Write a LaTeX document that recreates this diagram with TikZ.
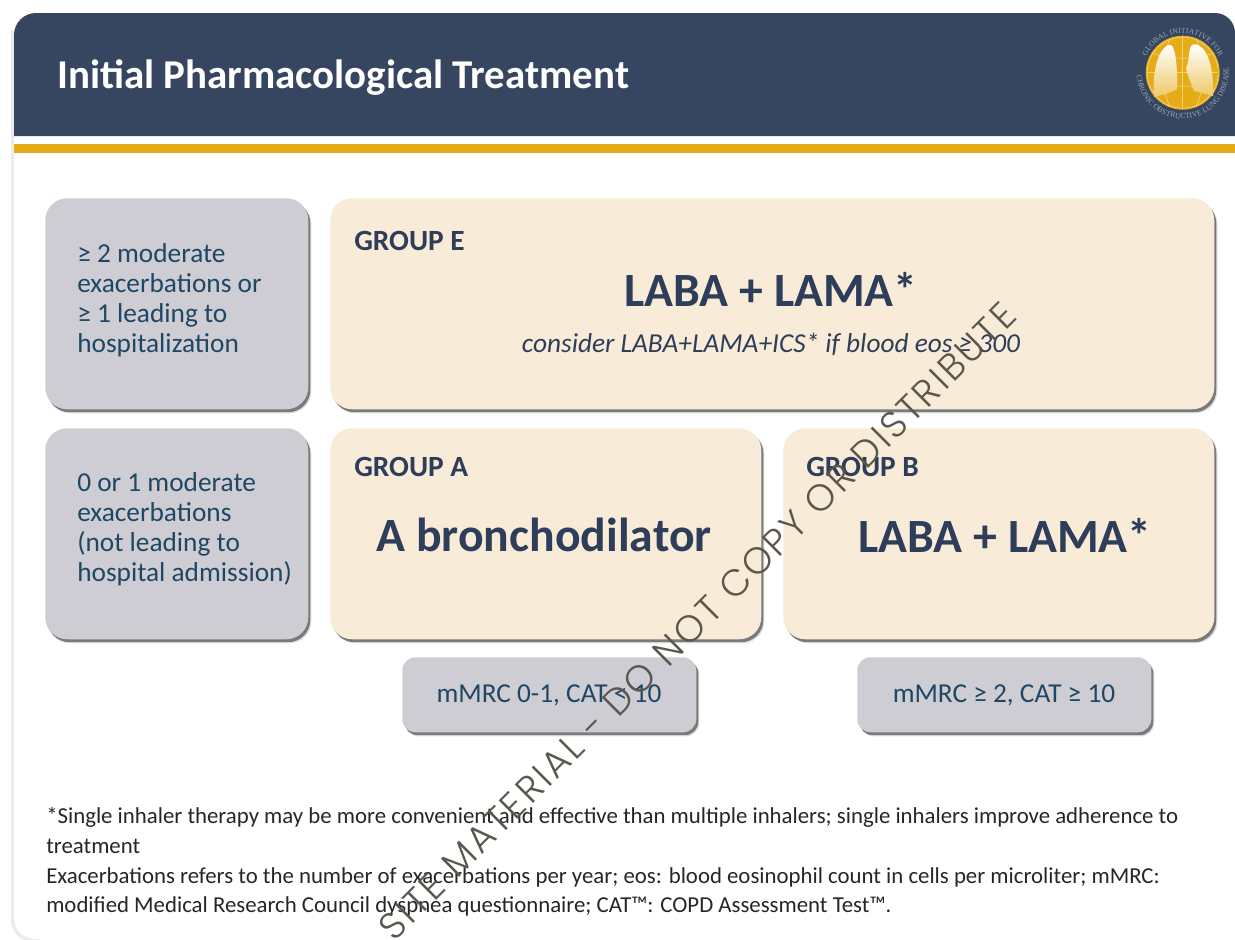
\documentclass[tikz,border=0pt]{standalone}
\usepackage{fontspec}
\setmainfont{Carlito}
\newfontfamily\logofont{Liberation Serif}
\newfontfamily\stampfont[LetterSpace=7]{Poppins Light}
\usetikzlibrary{shadows,decorations.text}

\definecolor{headerblue}{HTML}{374660}
\definecolor{goldband}{HTML}{E5AC18}
\definecolor{boxgray}{HTML}{CFCDD4}
\definecolor{boxcream}{HTML}{F8ECD8}
\definecolor{textblue}{HTML}{2E3D59}
\definecolor{labelblue}{HTML}{1F4763}
\definecolor{ringgray}{HTML}{9AA5B5}
\definecolor{gridgold}{HTML}{F3D27A}
\definecolor{stampgray}{HTML}{5C574C}

\tikzset{
  panelbox/.style={rectangle,rounded corners=16.5pt,anchor=north west,inner sep=0pt,
    drop shadow={shadow xshift=2.4pt,shadow yshift=-3pt,fill=black,opacity=0.12},
    drop shadow={shadow xshift=1.5pt,shadow yshift=-2.2pt,fill=black,opacity=0.45}},
  graybox/.style={panelbox,fill=boxgray},
  creambox/.style={panelbox,fill=boxcream},
  sidetext/.style={anchor=north west,align=left,text=labelblue,inner sep=0pt,
    font=\fontsize{20.5}{22.5}\selectfont},
  grouptext/.style={anchor=west,inner sep=0pt,text=textblue,font=\fontsize{22}{26}\selectfont\bfseries},
  bigtext/.style={inner sep=0pt,text=textblue,font=\fontsize{35.8}{40}\selectfont\bfseries},
  axistext/.style={inner sep=0pt,text=labelblue,font=\fontsize{20.5}{24}\selectfont},
  notetext/.style={anchor=west,inner sep=0pt,text=black!85,font=\fontsize{17.1}{20}\selectfont},
}

\begin{document}
\begin{tikzpicture}[x=0.75pt,y=0.75pt]
      \useasboundingbox (0,0) rectangle (1235,-939);
      \fill[white] (0,0) rectangle (1235,-939);

      %% page and header
      \fill[black!8] (11,-30) -- (11,-920) arc[start angle=180,end angle=270,radius=22] -- (40,-942) -- (40,-30) -- cycle;
      \fill[white] (14,-20) -- (14,-918) arc[start angle=180,end angle=270,radius=21] -- (1235,-939) -- (1235,-20) -- cycle;
      \fill[headerblue] (14,-136) -- (14,-35) arc[start angle=180,end angle=90,radius=22] -- (1215,-13) arc[start angle=90,end angle=0,radius=20] -- (1235,-136) -- cycle;
      \fill[goldband] (14,-144) rectangle (1235,-153);
      \node[anchor=west,inner sep=0pt,text=white,font=\fontsize{30.7}{36}\selectfont\bfseries] (title) at (57,-78) {Initial Pharmacological Treatment};

      %% logo
      \fill[goldband] (1182.7,-72.7) circle (37);
      \draw[gridgold,line width=0.5pt] (1182.7,-72.7) circle (35.5);
      \draw[gridgold,line width=0.5pt] (1148,-72.7) -- (1217,-72.7);
      \draw[gridgold,line width=0.5pt] (1182.7,-36) -- (1182.7,-109);
      \draw[gridgold,line width=0.5pt] (1152,-92) .. controls (1170,-84) and (1196,-84) .. (1214,-92);
      \draw[gridgold,line width=0.5pt] (1152,-53) .. controls (1170,-60) and (1196,-60) .. (1214,-53);
      \draw[gridgold,line width=0.5pt] (1170,-39) .. controls (1160,-60) and (1160,-85) .. (1170,-107);
      \draw[gridgold,line width=0.5pt] (1196,-39) .. controls (1206,-60) and (1206,-85) .. (1196,-107);
      \shade[top color=white,bottom color=goldband!65!white] (1168,-45) .. controls (1158,-50) and (1152,-72) .. (1154,-97) .. controls (1164,-95) and (1172,-92) .. (1177,-89) .. controls (1178,-75) and (1176,-55) .. (1174,-50) .. controls (1173,-46) and (1171,-44) .. (1168,-45) -- cycle;
      \shade[top color=white,bottom color=goldband!65!white] (1192,-45) .. controls (1188,-48) and (1190,-60) .. (1186,-68) .. controls (1188,-78) and (1192,-85) .. (1194,-91) .. controls (1200,-92) and (1208,-95) .. (1213,-96) .. controls (1214,-75) and (1210,-50) .. (1198,-45) .. controls (1196,-44) and (1194,-44) .. (1192,-45) -- cycle;
      \path[decorate,decoration={text along path,text align=center,text color=ringgray,
        text={|\fontsize{5.8}{7}\logofont|GLOBAL INITIATIVE FOR}}]
        (1182.7,-72.7) ++(160:39.5) arc[start angle=160,end angle=20,radius=39.5];
      \path[decorate,decoration={text along path,text align=center,text color=ringgray,
        text={|\fontsize{5.8}{7}\logofont|CHRONIC OBSTRUCTIVE LUNG DISEASE}}]
        (1182.7,-72.7) ++(178:46) arc[start angle=178,end angle=372,radius=46];

      %% boxes
      \node[graybox,minimum width=263*0.75pt,minimum height=211*0.75pt] (exacHigh) at (45,-198) {};
      \node[graybox,minimum width=263*0.75pt,minimum height=211*0.75pt] (exacLow) at (45,-428) {};
      \node[creambox,minimum width=884*0.75pt,minimum height=211*0.75pt] (groupE) at (330,-198) {};
      \node[creambox,minimum width=431*0.75pt,minimum height=211*0.75pt] (groupA) at (330,-428) {};
      \node[creambox,minimum width=431*0.75pt,minimum height=211*0.75pt] (groupB) at (783,-428) {};
      \node[graybox,rounded corners=10pt,minimum width=294*0.75pt,minimum height=75*0.75pt] (axisA) at (402,-657) {};
      \node[graybox,rounded corners=10pt,minimum width=294*0.75pt,minimum height=75*0.75pt] (axisB) at (857,-657) {};

      %% left labels
      \node[sidetext] (exacHighText) at (77,-243) {≥ 2 moderate\\exacerbations or\\≥ 1 leading to\\hospitalization};
      \node[sidetext] (exacLowText) at (77,-472) {0 or 1 moderate\\exacerbations\\(not leading to\\hospital admission)};

      %% group labels
      \node[grouptext] (groupEName) at (354,-241) {GROUP E};
      \node[grouptext] (groupAName) at (354,-467) {GROUP A};
      \node[grouptext] (groupBName) at (806,-467) {GROUP B};
      \node[bigtext] (groupEDrug) at (771,-289) {LABA + LAMA*};
      \node[bigtext] (groupADrug) at (544,-535) {A bronchodilator};
      \node[bigtext] (groupBDrug) at (1005,-535) {LABA + LAMA*};
      \node[inner sep=0pt,text=textblue,font=\fontsize{20.5}{24}\selectfont\itshape] (groupEHint) at (771,-344) {consider LABA+LAMA+ICS* if blood eos ≥ 300};

      %% axis labels
      \node[axistext] (axisAText) at (549,-695) {mMRC 0-1, CAT < 10};
      \node[axistext] (axisBText) at (1004,-695) {mMRC ≥ 2, CAT ≥ 10};

      %% footnotes
      \node[notetext] (noteA) at (46,-817) {*Single inhaler therapy may be more convenient and effective than multiple inhalers; single inhalers improve adherence to};
      \node[notetext] (noteB) at (46,-846) {treatment};
      \node[notetext] (noteC) at (46,-877) {Exacerbations refers to the number of exacerbations per year; eos: blood eosinophil count in cells per microliter; mMRC:};
      \node[notetext] (noteD) at (46,-906) {modified Medical Research Council dyspnea questionnaire; CAT™: COPD Assessment Test™.};

      %% watermark
      \node[rotate=45,anchor=base east,inner sep=0pt,text=stampgray,font=\fontsize{28}{32}\stampfont] (stamp) at (1019,-318) {SITE MATERIAL - DO NOT COPY OR DISTRIBUTE};

   \end{tikzpicture}
\end{document}
